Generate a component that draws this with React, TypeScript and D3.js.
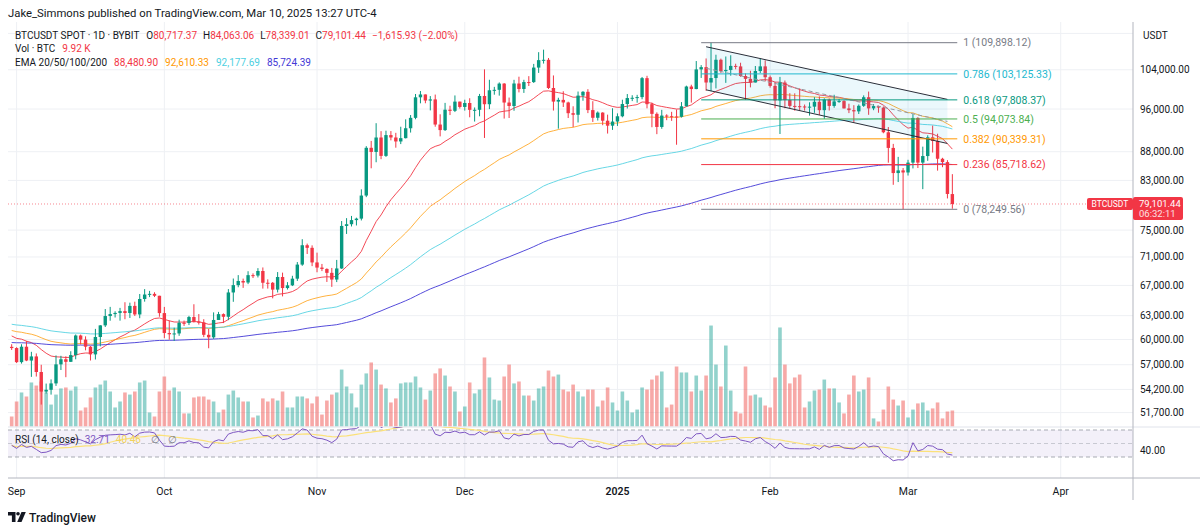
import React from 'react';
import * as d3 from 'd3';

// ---------- DATA (BTCUSDT spot, Bybit, 1D) ----------
const START_DATE = '2024-08-31';

const OPEN = [
  59117,
  58970, 57301, 59132, 57487, 57971, 56160, 53962, 54160, 54869, 57042,
  57636, 57338, 58132, 60499, 59993, 59132, 58213, 60313, 61759, 62947,
  63201, 63348, 63579, 63339, 64262, 63152, 65173, 65769, 65858, 65603,
  63327, 60805, 60650, 60752, 62086, 62058, 62819, 62224, 62134, 60583,
  60275, 62445, 63193, 62851, 66047, 67041, 67612, 67399, 68418, 68362,
  69001, 67367, 67361, 66432, 68161, 66642, 67014, 67930, 69907, 72720, 72340,
  70215, 69482, 69289, 68741, 67811, 69359, 75639, 75905, 76545, 76778,
  80474, 88701, 87955, 90584, 87250, 91031, 90586, 89855, 90465, 92310,
  94287, 98318, 98892, 97673, 97900, 93010, 91965, 95863, 95643, 97460,
  96407, 97185, 95840, 95849, 98587, 96945, 99740, 99831, 101109, 97276,
  96593, 101125, 100004, 101424, 101420, 104463, 106058, 106133, 100204, 97461,
  97805, 97291, 95187, 94881, 98663, 99430, 95792, 94299, 95301, 93738, 92792,
  93576, 94591, 96984, 98174, 98220, 98364, 102235, 96954, 95060, 92552,
  94726, 94599, 94546, 94488, 96534, 100505, 99988, 104078, 104556, 101331,
  102260, 106143, 103706, 103960, 104820, 104714, 102682, 102087, 101332, 103733, 104722,
  102430, 100636, 97700, 101328, 97763, 96612, 96555, 96500, 96444, 96462,
  97430, 95778, 97869, 96608, 97501, 97570, 96118, 95780, 95539, 96635,
  98334, 96125, 96577, 96273, 91552, 88680, 84250, 84708,
  84350, 86064, 94270, 86065, 87222, 90623, 89961, 86743, 86154, 80717,
];

const HIGH = [
  59433,
  59070, 59425, 59809, 58519, 58327, 56995, 54850, 55318, 58088, 58044,
  57996, 58588, 60625, 60610, 60395, 59210, 61320, 61786, 63850, 64133,
  63559, 64000, 64745, 64688, 64817, 65839, 66498, 66260, 66076, 65603,
  64130, 62370, 61474, 62484, 62370, 62975, 64478, 63200, 62543, 61320,
  63417, 63480, 63285, 66500, 67950, 68424, 67939, 68969, 68668, 69400,
  69500, 67836, 67471, 68850, 68771, 67454, 68330, 70270, 73620, 72962, 72700,
  71632, 70000, 69380, 69432, 70577, 76400, 76850, 77199, 76927, 81500,
  89000, 89956, 93265, 91765, 91850, 91779, 91449, 92594, 94002, 94831,
  98988, 99588, 98899, 98564, 98871, 94973, 97208, 96650, 98693, 97463,
  97836, 98130, 96305, 99000, 104088, 101898, 100439, 101351, 101215, 98270,
  101888, 102540, 101895, 102650, 105250, 107793, 108353, 106524, 102800, 98233,
  99540, 97448, 96538, 99487, 99569, 99963, 97544, 95525, 95374, 94903, 96150,
  95150, 97840, 98976, 98734, 98813, 102480, 102725, 97258, 95350, 95836,
  94977, 95450, 95900, 97371, 100681, 100873, 105865, 104988, 106422, 109898,
  107240, 106394, 106850, 107120, 105286, 105500, 103220, 103784, 104800, 106457, 106012,
  102783, 101456, 102500, 101745, 99149, 99120, 100137, 96880, 97323, 98345,
  98500, 98119, 98080, 98827, 97972, 97732, 97046, 96753, 96899, 98711,
  99475, 96980, 96671, 96503, 92540, 89414, 87078, 85120,
  86558, 95000, 94416, 88912, 90998, 92810, 91283, 86910, 86500, 84063,
];

const LOW = [
  58740,
  57200, 57128, 57415, 55606, 55643, 52550, 53745, 53629, 54591, 56386,
  55567, 57324, 57633, 59400, 58696, 57493, 57610, 59174, 61555, 62350,
  62758, 62357, 62538, 62700, 62947, 62670, 64819, 65422, 65432, 62856,
  60164, 59982, 59828, 60459, 61689, 61798, 62128, 61861, 60300, 58946,
  60087, 62445, 62050, 62422, 64800, 66750, 66666, 67177, 68020, 68100,
  66568, 66571, 65260, 66048, 65520, 66440, 66913, 67620, 69730, 71436, 69686,
  68821, 68989, 67478, 66803, 67458, 69298, 74416, 75560, 75712, 76492,
  80216, 85072, 86127, 86668, 87073, 90057, 88722, 89376, 90406, 91500,
  94014, 97122, 97134, 95734, 92600, 90791, 91792, 94827, 95407, 96092,
  95693, 94395, 93579, 94587, 90500, 95981, 98844, 98657, 94150, 94256,
  95658, 99311, 99205, 100610, 101237, 103333, 105321, 100000, 95700, 92232,
  96398, 94250, 92520, 93400, 97632, 95200, 93500, 93774, 92881, 91317, 92000,
  92743, 94392, 96100, 97562, 97250, 97926, 96132, 92500, 91203, 92207,
  93840, 93711, 89256, 94346, 96500, 97268, 99950, 102277, 99651, 99550,
  100119, 103339, 101262, 102750, 104106, 102520, 97795, 100333, 101328, 103321, 101560,
  100279, 96150, 91231, 96150, 96155, 95676, 95620, 95689, 94713, 95256,
  94851, 94088, 95700, 96252, 97223, 96101, 95205, 93388, 95029, 96415,
  94871, 95770, 95270, 91371, 86050, 82256, 82716, 78250,
  83824, 85050, 85117, 81529, 86379, 87852, 84667, 85263, 80000, 78339,
];

const CLOSE = [
  58970,
  57301, 59132, 57487, 57971, 56160, 53962, 54160, 54869, 57042, 57636,
  57338, 58132, 60499, 59993, 59132, 58213, 60313, 61759, 62947, 63201,
  63348, 63579, 63339, 64262, 63152, 65173, 65769, 65858, 65603, 63327,
  60805, 60650, 60752, 62086, 62058, 62819, 62224, 62134, 60583, 60275,
  62445, 63193, 62851, 66047, 67041, 67612, 67399, 68418, 68362, 69001,
  67367, 67361, 66432, 68161, 66642, 67014, 67930, 69907, 72720, 72340, 70215,
  69482, 69289, 68741, 67811, 69359, 75639, 75905, 76545, 76778, 80474,
  88701, 87955, 90584, 87250, 91031, 90586, 89855, 90465, 92310, 94287,
  98318, 98892, 97673, 97900, 93010, 91965, 95863, 95643, 97460, 96407,
  97185, 95840, 95849, 98587, 96945, 99740, 99831, 101109, 97276, 96593,
  101125, 100004, 101424, 101420, 104463, 106058, 106133, 100204, 97461, 97805,
  97291, 95187, 94881, 98663, 99430, 95792, 94299, 95301, 93738, 92792, 93576,
  94591, 96984, 98174, 98220, 98364, 102235, 96954, 95060, 92552, 94726,
  94599, 94546, 94488, 96534, 100505, 99988, 104078, 104556, 101331, 102260,
  106143, 103706, 103960, 104820, 104714, 102682, 102087, 101332, 103733, 104722, 102430,
  100636, 97700, 101328, 97763, 96612, 96555, 96500, 96444, 96462, 97430,
  95778, 97869, 96608, 97501, 97570, 96118, 95780, 95539, 96635, 98334,
  96125, 96577, 96273, 91552, 88680, 84250, 84708, 84350,
  86064, 94270, 86065, 87222, 90623, 89961, 86743, 86154, 80734, 79101.44,
];

// volume, thousands of BTC
const VOLUME_K = [
  6.2,
  15.5, 21.1, 18.6, 27.3, 25.4, 27.9, 21.1, 13.6, 19.8, 23.6,
  24.2, 22.3, 24.8, 9.9, 11.8, 18.0, 24.2, 26.0, 28.5, 21.7,
  11.8, 15.5, 21.1, 19.8, 21.7, 27.3, 28.5, 8.7, 6.2, 21.7,
  31.0, 22.3, 24.2, 21.7, 8.1, 8.1, 18.0, 18.6, 18.6, 16.7,
  15.5, 8.7, 10.5, 19.8, 22.3, 18.0, 15.5, 15.5, 5.6, 6.8,
  17.4, 15.5, 17.4, 16.1, 21.7, 11.8, 11.8, 18.6, 18.6, 17.4, 14.3,
  18.6, 7.4, 16.1, 19.8, 21.1, 35.3, 24.8, 20.5, 11.8, 26.0,
  32.9, 39.7, 35.3, 26.0, 23.6, 14.9, 17.4, 26.7, 27.3, 27.3,
  31.0, 24.2, 16.7, 22.3, 32.9, 36.0, 31.6, 24.8, 21.7, 9.3,
  12.4, 27.3, 20.5, 22.9, 42.8, 30.4, 16.7, 16.1, 31.0, 38.4,
  26.7, 27.9, 19.2, 19.2, 16.1, 23.6, 24.8, 34.7, 31.0, 32.2,
  22.9, 21.7, 26.0, 21.7, 18.6, 22.9, 22.9, 12.4, 16.1, 24.2, 14.9,
  9.9, 21.7, 16.1, 8.7, 10.5, 24.2, 22.9, 29.1, 31.6, 34.1,
  11.8, 13.6, 37.2, 33.5, 33.5, 21.7, 31.6, 22.3, 31.6, 62.6,
  38.4, 24.8, 50.2, 22.3, 9.3, 8.1, 37.2, 19.2, 19.8, 18.0, 13.0,
  11.8, 30.4, 61.4, 38.4, 26.7, 30.4, 32.2, 11.8, 15.5, 22.3,
  22.9, 29.1, 23.6, 23.6, 14.9, 8.1, 19.8, 31.6, 21.7, 22.9,
  30.4, 5.0, 3.1, 10.5, 24.8, 16.7, 13.0, 16.1,
  5.6, 10.5, 14.3, 14.9, 9.9, 11.2, 14.9, 5.0, 9.3, 9.92,
];

const EMA_PERIODS = [20, 50, 100, 200];
const EMA_SEEDS = [60600, 61210, 61960, 59640];
const EMA_COLORS = ['#f23645', '#ff9800', '#4dd0e1', '#4338d6'];
const EMA_LEGEND = ['88,480.90', '92,610.33', '92,177.69', '85,724.39'];

// RSI(14) state just before the first bar
const RSI_PERIOD = 14;
const RSI_AVG_GAIN_SEED = 620;
const RSI_AVG_LOSS_SEED = 680;

const PRICE_TICKS = [104000, 96000, 88000, 83000, 75000, 71000, 67000, 63000, 60000, 57000, 54200, 51700];
const PRICE_GRID_EXTRA = [112000];
const MONTH_TICKS = ['2024-09-01', '2024-10-01', '2024-11-01', '2024-12-01', '2025-01-01', '2025-02-01', '2025-03-01', '2025-04-01'];
const MONTH_LABELS = ['Sep', 'Oct', 'Nov', 'Dec', '2025', 'Feb', 'Mar', 'Apr'];

const FIB_LEVELS = [1, 0.786, 0.618, 0.5, 0.382, 0.236, 0];
const FIB_COLORS = ['#787b86', '#22b8cf', '#089981', '#4caf50', '#ff9800', '#f23645', '#787b86'];
const FIB_HIGH = 109898.12;
const FIB_LOW = 78249.56;
const FIB_START = '2025-01-18';
const FIB_END = '2025-03-11';

const CHANNEL_DATES = ['2025-01-19', '2025-03-09'];
const CHANNEL_UPPER = [108997, 97900];
const CHANNEL_LOWER = [99830, 89490];

const LAST_PRICE = 79101.44;

const UP = '#089981';
const DOWN = '#f23645';
const TEXT = '#131722';
const FONT = "Roboto, 'Open Sans', 'Noto Sans', sans-serif";

const d = (s: string) => new Date(s + 'T00:00:00Z');

export default function App() {
  const L = 8, R = 1133;
  const PANE_TOP = 22, PANE_BOTTOM = 427, RSI_BOTTOM = 478;
  const n = CLOSE.length;
  const start = d(START_DATE);
  const dates = d3.range(n).map((i) => d3.utcDay.offset(start, i));

  const x = d3.scaleUtc().domain([d('2024-09-01'), d('2025-04-01')]).range([16.6, 1060.7]);
  const y = d3.scaleLog().domain([FIB_HIGH, FIB_LOW]).range([42.7, 209.3]);
  const vy = d3.scaleLinear().domain([0, 62]).range([426.5, 326.5]);
  const ry = d3.scaleLinear().domain([70, 30]).range([430, 457]);

  // EMAs derived from closes
  const emas = EMA_PERIODS.map((p, k) => {
    const a = 2 / (p + 1);
    let prev = EMA_SEEDS[k];
    return CLOSE.map((c) => (prev = prev + a * (c - prev)));
  });

  // RSI (Wilder) derived from closes
  let ag = RSI_AVG_GAIN_SEED, al = RSI_AVG_LOSS_SEED;
  const rsi = CLOSE.map((c, i) => {
    const prev = i === 0 ? OPEN[0] : CLOSE[i - 1];
    const ch = c - prev;
    ag = (ag * (RSI_PERIOD - 1) + Math.max(ch, 0)) / RSI_PERIOD;
    al = (al * (RSI_PERIOD - 1) + Math.max(-ch, 0)) / RSI_PERIOD;
    return 100 - 100 / (1 + ag / al);
  });
  const rsiMa = rsi.map((_, i) => d3.mean(rsi.slice(Math.max(0, i - RSI_PERIOD + 1), i + 1)) as number);

  const emaLine = d3.line<number>().x((_, i) => x(dates[i])).y((v) => y(v));
  const rsiLine = d3.line<number>().x((_, i) => x(dates[i])).y((v) => ry(v)).curve(d3.curveLinear);

  const fmt2 = d3.format(',.2f');
  const lastY = y(LAST_PRICE);

  const fx0 = x(d(FIB_START)), fx1 = x(d(FIB_END));
  const cx0 = x(d(CHANNEL_DATES[0])), cx1 = x(d(CHANNEL_DATES[1]));
  const cu0 = y(CHANNEL_UPPER[0]), cu1 = y(CHANNEL_UPPER[1]);
  const cl0 = y(CHANNEL_LOWER[0]), cl1 = y(CHANNEL_LOWER[1]);

  const gridColor = '#eef0f4';

  return (
    <svg width={1200} height={530} style={{ position: 'absolute', left: 0, top: 0, background: '#fff' }} fontFamily={FONT}>
      <defs>
        <clipPath id="pane"><rect x={L} y={PANE_TOP} width={R - L} height={PANE_BOTTOM - PANE_TOP} /></clipPath>
        <clipPath id="rsi"><rect x={L} y={PANE_BOTTOM} width={R - L} height={RSI_BOTTOM - PANE_BOTTOM} /></clipPath>
      </defs>
      <rect x={0} y={0} width={1200} height={530} fill="#fff" />

      {/* grid */}
      {MONTH_TICKS.map((m) => (
        <line key={m} x1={x(d(m))} x2={x(d(m))} y1={PANE_TOP} y2={RSI_BOTTOM} stroke={gridColor} />
      ))}
      {[...PRICE_TICKS, ...PRICE_GRID_EXTRA].map((p) => (
        <line key={p} x1={L} x2={R} y1={y(p)} y2={y(p)} stroke={gridColor} />
      ))}

      {/* main pane */}
      <g clipPath="url(#pane)">
        {VOLUME_K.map((v, i) => {
          const up = CLOSE[i] >= OPEN[i];
          const cx = x(dates[i]);
          return (
            <rect key={i} x={cx - 1.8} y={vy(v)} width={3.6} height={vy(0) - vy(v)}
              fill={up ? 'rgba(38,166,154,0.5)' : 'rgba(239,83,80,0.5)'} />
          );
        })}
        {emas.map((e, k) => (
          <path key={k} d={emaLine(e) || ''} fill="none" stroke={EMA_COLORS[k]} strokeWidth={1}
            strokeOpacity={k === 1 ? 0.75 : k === 2 ? 0.85 : 0.9} />
        ))}
        {CLOSE.map((c, i) => {
          const o = OPEN[i];
          const up = c >= o;
          const col = up ? UP : DOWN;
          const cx = x(dates[i]);
          const yo = y(o), yc = y(c);
          const top = Math.min(yo, yc);
          const h = Math.max(1, Math.abs(yo - yc));
          return (
            <g key={i}>
              <line x1={cx} x2={cx} y1={y(HIGH[i])} y2={y(LOW[i])} stroke={col} strokeWidth={1} />
              <rect x={cx - 1.7} y={top} width={3.4} height={h} fill={col} />
            </g>
          );
        })}

        {/* parallel channel */}
        <polygon points={`${cx0},${cu0} ${cx1},${cu1} ${cx1},${cl1} ${cx0},${cl0}`} fill="rgba(0,172,212,0.08)" />
        <line x1={cx0} y1={cu0} x2={cx1} y2={cu1} stroke="#2a2e39" strokeWidth={1} />
        <line x1={cx0} y1={cl0} x2={cx1} y2={cl1} stroke="#2a2e39" strokeWidth={1} />
        <line x1={cx0} y1={(cu0 + cl0) / 2} x2={cx1} y2={(cu1 + cl1) / 2} stroke="#9598a1" strokeWidth={1} strokeDasharray="4 3" />

        {/* fib retracement */}
        {FIB_LEVELS.map((lv, k) => {
          const p = FIB_LOW + lv * (FIB_HIGH - FIB_LOW);
          return <line key={lv} x1={fx0} x2={fx1} y1={y(p)} y2={y(p)} stroke={FIB_COLORS[k]} strokeWidth={1} />;
        })}

        {/* last price line */}
        <line x1={L} x2={R} y1={lastY} y2={lastY} stroke="#f23645" strokeOpacity={0.6} strokeDasharray="1 2" />
      </g>

      {FIB_LEVELS.map((lv, k) => {
        const p = FIB_LOW + lv * (FIB_HIGH - FIB_LOW);
        return (
          <text key={lv} x={fx1 + 6} y={y(p)} dy="0.35em" fontSize={10.5} fill={FIB_COLORS[k]}>
            {`${lv} (${fmt2(p)})`}
          </text>
        );
      })}

      {/* RSI pane */}
      <line x1={L} x2={1200} y1={PANE_BOTTOM} y2={PANE_BOTTOM} stroke="#e0e3eb" />
      <rect x={L} y={ry(70)} width={R - L} height={ry(30) - ry(70)} fill="rgba(126,87,194,0.09)" />
      {[70, 50, 30].map((v) => (
        <line key={v} x1={L} x2={R} y1={ry(v)} y2={ry(v)} stroke="#9598a1" strokeOpacity={v === 50 ? 0.45 : 0.8}
          strokeDasharray="4 3" />
      ))}
      <g clipPath="url(#rsi)">
        <path d={rsiLine(rsiMa) || ''} fill="none" stroke="#fbe17a" strokeWidth={1.2} />
        <path d={rsiLine(rsi) || ''} fill="none" stroke="#7e57c2" strokeWidth={1} />
      </g>

      {/* axes */}
      <line x1={L} x2={1200} y1={RSI_BOTTOM} y2={RSI_BOTTOM} stroke="#b2b5be" />
      <line x1={R} x2={R} y1={PANE_TOP} y2={500} stroke="#b2b5be" />
      <text x={1143} y={39} fontSize={10} fill={TEXT}>USDT</text>
      {PRICE_TICKS.map((p) => (
        <text key={p} x={1140} y={y(p)} dy="0.35em" fontSize={10} fill={TEXT}>{fmt2(p)}</text>
      ))}
      <text x={1140} y={ry(40)} dy="0.35em" fontSize={10} fill={TEXT}>40.00</text>
      {MONTH_TICKS.map((m, k) => (
        <text key={m} x={x(d(m))} y={495} textAnchor="middle" fontSize={10.5} fill={TEXT}
          fontWeight={MONTH_LABELS[k] === '2025' ? 600 : 400}>{MONTH_LABELS[k]}</text>
      ))}

      {/* last price labels */}
      <rect x={1087} y={lastY - 6} width={46} height={12} rx={2} fill="#f23645" />
      <text x={1110} y={lastY} dy="0.35em" textAnchor="middle" fontSize={8.5} fill="#fff">BTCUSDT</text>
      <rect x={1133} y={lastY - 7} width={50} height={23} rx={2} fill="#f23645" />
      <text x={1139} y={lastY} dy="0.35em" fontSize={9.5} fill="#fff">{fmt2(LAST_PRICE)}</text>
      <text x={1139} y={lastY + 10} dy="0.35em" fontSize={9.5} fill="#fde0e2">06:32:11</text>

      {/* header */}
      <text x={8} y={17} fontSize={11.3} fill={TEXT}>Jake_Simmons published on TradingView.com, Mar 10, 2025 13:27 UTC-4</text>
      <text x={15} y={38.5} fontSize={10} fill={TEXT}>
        BTCUSDT SPOT · 1D · BYBIT
        <tspan dx={7}>O</tspan><tspan fill={DOWN}>80,717.37</tspan>
        <tspan dx={6}>H</tspan><tspan fill={DOWN}>84,063.06</tspan>
        <tspan dx={6}>L</tspan><tspan fill={DOWN}>78,339.01</tspan>
        <tspan dx={6}>C</tspan><tspan fill={DOWN}>79,101.44</tspan>
        <tspan dx={6} fill={DOWN}>−1,615.93 (−2.00%)</tspan>
      </text>
      <text x={15} y={51.5} fontSize={10} fill={TEXT}>
        Vol · BTC<tspan dx={7} fill={DOWN}>9.92 K</tspan>
      </text>
      <text x={15} y={66} fontSize={10} fill={TEXT}>
        EMA 20/50/100/200
        {EMA_LEGEND.map((v, k) => (
          <tspan key={k} dx={7} fill={EMA_COLORS[k]}>{v}</tspan>
        ))}
      </text>
      <text x={15} y={443} fontSize={10} fill={TEXT}>
        RSI (14, close)<tspan dx={6} fill="#7e57c2">32.71</tspan>
        <tspan dx={6} fill="#f2d25c">40.46</tspan>
        <tspan dx={10} fill="#787b86">∅</tspan>
        <tspan dx={8} fill="#787b86">∅</tspan>
      </text>

      {/* TradingView logo */}
      <g fill={TEXT}>
        <path d="M8 512 h7.5 v10 h-3.6 v-6.4 h-3.9 z" />
        <circle cx={18} cy={513.8} r={1.8} />
        <path d="M21.5 512 h4.3 l-4.3 10 h-4.3 z" />
      </g>
      <text x={29} y={521.5} fontSize={12} fill={TEXT} fontWeight={500}>TradingView</text>
    </svg>
  );
}
